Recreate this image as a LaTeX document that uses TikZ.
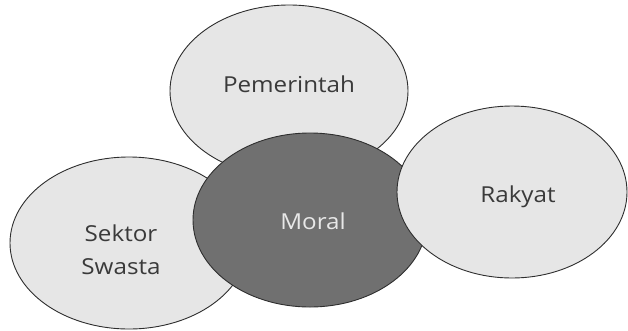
\documentclass[tikz,border=0pt]{standalone}
\usepackage{fontspec}
\setmainfont{Open Sans}[FakeStretch=1.1]
\usetikzlibrary{shapes.geometric}
\definecolor{lightfill}{HTML}{E6E6E6}
\definecolor{darkfill}{HTML}{707070}
\definecolor{edge}{HTML}{2E2E2E}
\definecolor{txt}{HTML}{3A3A3A}
\definecolor{lighttxt}{HTML}{E8E8E8}
\tikzset{
  blob/.style={ellipse, draw=edge, line width=0.9pt, fill=lightfill, inner sep=0pt, outer sep=0pt},
  coreblob/.style={blob, fill=darkfill},
  lbl/.style={inner sep=0pt, anchor=base, align=center, text=txt, font=\fontsize{22}{33}\selectfont},
  corelbl/.style={lbl, text=lighttxt}
}
\begin{document}
\begin{tikzpicture}[x=1pt,y=-1pt]
\useasboundingbox (0,0) rectangle (628,330);
\node[blob, minimum width=238pt, minimum height=172pt] (pem) at (289,91) {};
\node[blob, minimum width=238pt, minimum height=172pt] (sek) at (129,243) {};
\node[coreblob, minimum width=234pt, minimum height=174pt] (mor) at (310,220) {};
\node[blob, minimum width=230pt, minimum height=172pt] (rak) at (512,192) {};
\node[lbl] (tpem) at (289,92.5) {Pemerintah};
\node[lbl] (tsek) at (121,274) {Sektor\\Swasta};
\node[corelbl] (tmor) at (313,229) {Moral};
\node[lbl] (trak) at (518,202) {Rakyat};
\end{tikzpicture}
\end{document}
